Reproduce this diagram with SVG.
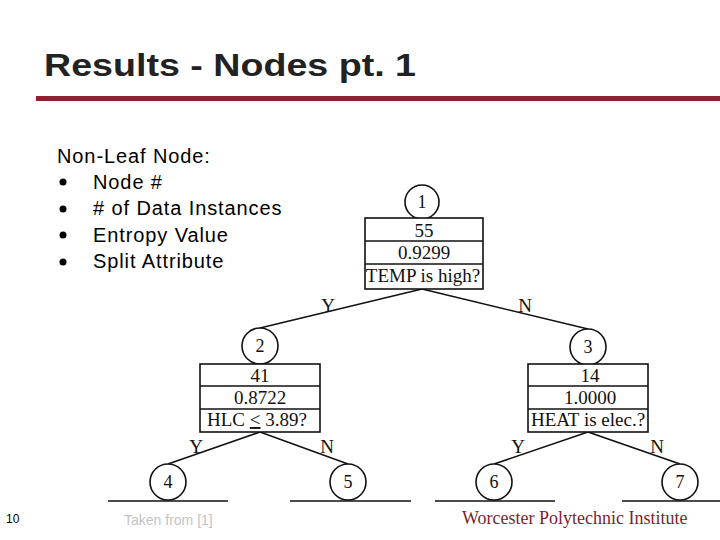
<svg xmlns="http://www.w3.org/2000/svg" width="720" height="540" viewBox="0 0 720 540">
<style>
.t{font-family:"Liberation Serif","Times New Roman",serif;font-size:19px;fill:#111;text-anchor:middle}
.n{font-family:"Liberation Serif","Times New Roman",serif;font-size:18px;fill:#111;text-anchor:middle}
.b{fill:#fff;stroke:#111;stroke-width:1.6}
.c{fill:#fff;stroke:#111;stroke-width:1.6}
.e{stroke:#111;stroke-width:1.6;fill:none}
.s{font-family:"Liberation Sans",Arial,sans-serif;font-size:20px;letter-spacing:0.9px;fill:#000}
</style>
<rect width="720" height="540" fill="#fff"/>
<text x="44" y="76" font-family="Liberation Sans,Arial,sans-serif" font-weight="bold" font-size="31" fill="#222" textLength="372" lengthAdjust="spacingAndGlyphs">Results - Nodes pt. 1</text>
<rect x="36" y="96" width="684" height="5" fill="#8b2232"/>
<g id="legend">
<text class="s" x="57" y="163">Non-Leaf Node:</text>
<circle cx="63" cy="182" r="3.5" fill="#000"/><text class="s" x="93" y="189">Node #</text>
<circle cx="63" cy="209" r="3.5" fill="#000"/><text class="s" x="93" y="215"># of Data Instances</text>
<circle cx="63" cy="235" r="3.5" fill="#000"/><text class="s" x="93" y="242">Entropy Value</text>
<circle cx="63" cy="262" r="3.5" fill="#000"/><text class="s" x="93" y="268">Split Attribute</text>
</g>
<g id="connectors">
<line class="e" x1="422" y1="289" x2="260" y2="328"/>
<line class="e" x1="422" y1="289" x2="588" y2="329"/>
<line class="e" x1="260" y1="432" x2="168" y2="464"/>
<line class="e" x1="260" y1="432" x2="348" y2="464"/>
<line class="e" x1="588" y1="432" x2="494" y2="464"/>
<line class="e" x1="588" y1="432" x2="680" y2="464"/>
<text class="t" x="328" y="312">Y</text>
<text class="t" x="525" y="312">N</text>
<text class="t" x="196" y="453">Y</text>
<text class="t" x="327" y="453">N</text>
<text class="t" x="518" y="453">Y</text>
<text class="t" x="657" y="453">N</text>
</g>
<g id="node1">
<circle class="c" cx="422" cy="202" r="17"/>
<text class="n" x="422" y="208">1</text>
<rect class="b" x="365" y="218" width="118" height="71"/>
<line class="e" x1="365" y1="241" x2="483" y2="241"/>
<line class="e" x1="365" y1="264" x2="483" y2="264"/>
<text class="t" x="424" y="237">55</text>
<text class="t" x="424" y="259">0.9299</text>
<text class="t" x="423" y="282">TEMP is high?</text>
</g>
<g id="node2">
<circle class="c" cx="260" cy="346" r="18"/>
<text class="n" x="260" y="352">2</text>
<rect class="b" x="200" y="364" width="120" height="68"/>
<line class="e" x1="200" y1="386" x2="320" y2="386"/>
<line class="e" x1="200" y1="409" x2="320" y2="409"/>
<text class="t" x="260" y="382">41</text>
<text class="t" x="260" y="404">0.8722</text>
<text class="t" x="257" y="426">HLC <tspan text-decoration="underline">&lt;</tspan> 3.89?</text>
</g>
<g id="node3">
<circle class="c" cx="588" cy="347" r="18"/>
<text class="n" x="588" y="353">3</text>
<rect class="b" x="528" y="364" width="120" height="68"/>
<line class="e" x1="528" y1="386" x2="648" y2="386"/>
<line class="e" x1="528" y1="409" x2="648" y2="409"/>
<text class="t" x="590" y="382">14</text>
<text class="t" x="590" y="404">1.0000</text>
<text class="t" x="588" y="426">HEAT is elec.?</text>
</g>
<g id="node4">
<line class="e" x1="108" y1="501" x2="228" y2="501"/>
<circle class="c" cx="168" cy="482" r="18"/>
<text class="n" x="168" y="488">4</text>
</g>
<g id="node5">
<line class="e" x1="290" y1="501" x2="411" y2="501"/>
<circle class="c" cx="348" cy="482" r="18"/>
<text class="n" x="348" y="488">5</text>
</g>
<g id="node6">
<line class="e" x1="435" y1="501" x2="555" y2="501"/>
<circle class="c" cx="494" cy="482" r="18"/>
<text class="n" x="494" y="488">6</text>
</g>
<g id="node7">
<line class="e" x1="622" y1="501" x2="720" y2="501"/>
<circle class="c" cx="680" cy="482" r="18"/>
<text class="n" x="680" y="488">7</text>
</g>
<text x="6" y="523" font-family="Liberation Sans,Arial,sans-serif" font-size="12" fill="#000">10</text>
<text x="124" y="525" font-family="Liberation Sans,Arial,sans-serif" font-size="14" fill="#c4c4c4">Taken from [1]</text>
<text x="462" y="524" font-family="Liberation Serif,Times New Roman,serif" font-size="18" fill="#7b1f2e">Worcester Polytechnic Institute</text>
</svg>
